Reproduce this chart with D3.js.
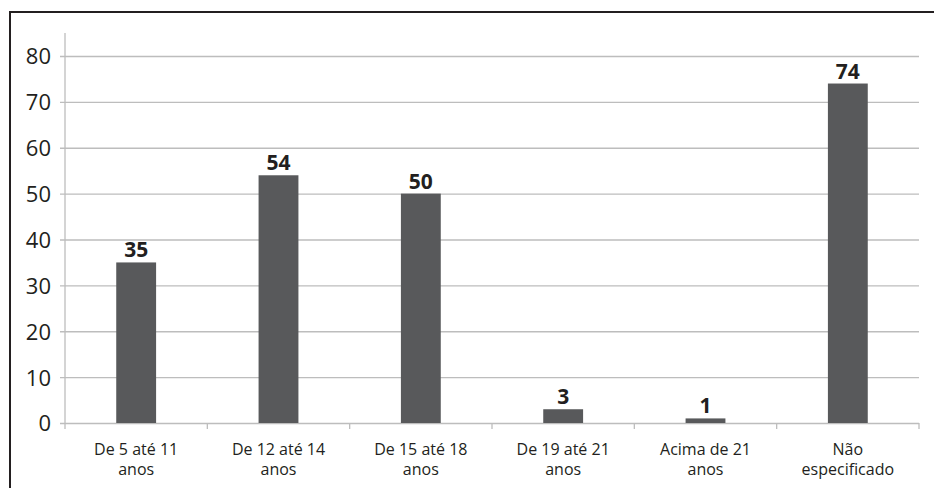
<!DOCTYPE html>
<html lang="pt">
<head>
    <meta charset="utf-8">
    <title>Faixa etária</title>
    <script type="text/javascript" src="https://d3js.org/d3.v7.min.js"></script>
    <style>
        body { margin: 0; background: #fff; }
        text { font-family: "Open Sans", "Noto Sans", sans-serif; fill: #231f20; }
    </style>
</head>
<body>
    <div id="bar-chart"></div>
    <script type="text/javascript">
        // data
        const categories = [
            ["De 5 até 11", "anos"],
            ["De 12 até 14", "anos"],
            ["De 15 até 18", "anos"],
            ["De 19 até 21", "anos"],
            ["Acima de 21", "anos"],
            ["Não", "especificado"]
        ];
        const values = [35, 54, 50, 3, 1, 74];
        const yTicks = [0, 10, 20, 30, 40, 50, 60, 70, 80];

        const width = 934;
        const height = 488;
        const plotLeft = 65, plotRight = 919;
        const plotTop = 56, plotBottom = 423;

        const svg = d3.select("#bar-chart")
            .append("svg")
            .attr("width", width)
            .attr("height", height);

        // outer frame (only left & top visible)
        svg.append("path")
            .attr("d", `M10,${height} L10,12 L${width},12`)
            .attr("fill", "none")
            .attr("stroke", "#231f20")
            .attr("stroke-width", 2);

        const labels = categories.map(c => c.join(" "));

        const x = d3.scaleBand()
            .domain(labels)
            .range([plotLeft, plotRight])
            .paddingInner(0.72)
            .paddingOuter(0.36);

        const y = d3.scaleLinear()
            .domain([0, 80])
            .range([plotBottom, plotTop]);

        // y axis + gridlines
        const yAxis = svg.append("g")
            .attr("transform", `translate(${plotLeft},0)`)
            .call(d3.axisLeft(y)
                .tickValues(yTicks)
                .tickSize(-(plotRight - plotLeft))
                .tickPadding(14));
        yAxis.select(".domain").remove();
        yAxis.selectAll(".tick line")
            .attr("x1", -5)
            .attr("stroke", "#bdbdbd")
            .attr("stroke-width", 1.3);
        yAxis.selectAll(".tick text")
            .style("font-size", "22px")
            .attr("dy", "0.36em");

        // vertical axis line
        svg.append("line")
            .attr("x1", plotLeft).attr("x2", plotLeft)
            .attr("y1", 33).attr("y2", plotBottom)
            .attr("stroke", "#bdbdbd")
            .attr("stroke-width", 1.3);

        // category boundary ticks
        const step = x.step();
        const boundaries = d3.range(labels.length + 1)
            .map(i => i < labels.length ? x(labels[i]) - (step - x.bandwidth()) / 2 : plotRight);
        svg.append("g")
            .selectAll("line")
            .data(boundaries)
            .enter()
            .append("line")
                .attr("x1", d => d).attr("x2", d => d)
                .attr("y1", plotBottom).attr("y2", plotBottom + 6)
                .attr("stroke", "#bdbdbd")
                .attr("stroke-width", 1.3);

        // bars
        svg.append("g")
            .selectAll("rect")
            .data(values)
            .enter()
            .append("rect")
                .attr("x", (d, i) => x(labels[i]))
                .attr("y", d => y(d))
                .attr("width", x.bandwidth())
                .attr("height", d => y(0) - y(d))
                .attr("fill", "#58595b");

        // value labels
        svg.append("g")
            .selectAll("text")
            .data(values)
            .enter()
            .append("text")
                .attr("x", (d, i) => x(labels[i]) + x.bandwidth() / 2)
                .attr("y", d => y(d) - 5)
                .attr("text-anchor", "middle")
                .style("font-size", "21px")
                .style("font-weight", "bold")
                .text(d => d);

        // x axis labels (two lines)
        const xAxis = svg.append("g")
            .attr("transform", `translate(0,${plotBottom})`)
            .call(d3.axisBottom(x).tickSize(0).tickFormat(""));
        xAxis.select(".domain").remove();
        xAxis.selectAll(".tick text").remove();
        xAxis.selectAll(".tick")
            .append("text")
                .attr("text-anchor", "middle")
                .style("font-size", "16px")
                .each(function(d, i) {
                    const t = d3.select(this);
                    categories[i].forEach((line, j) => {
                        t.append("tspan")
                            .attr("x", 0)
                            .attr("y", 32 + j * 20)
                            .text(line);
                    });
                });
    </script>
</body>
</html>
